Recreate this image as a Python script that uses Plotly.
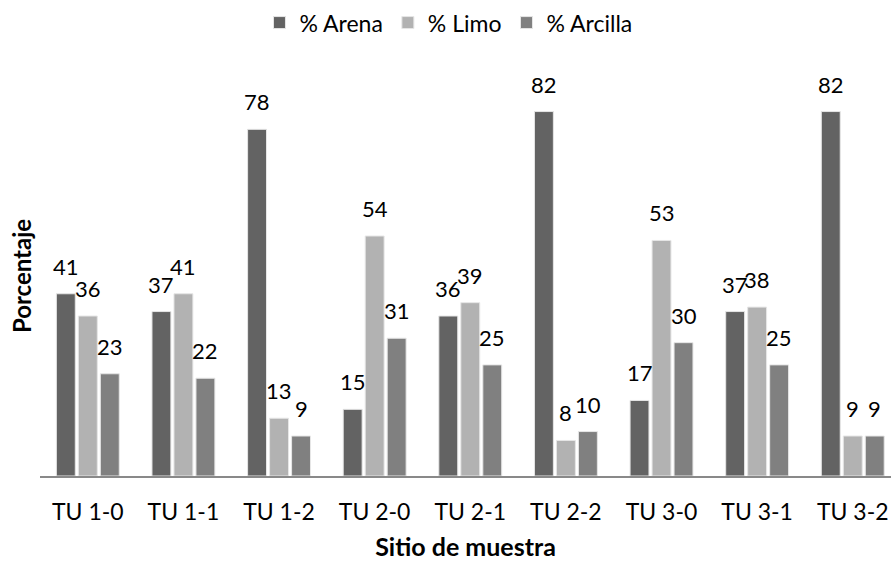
import plotly.graph_objects as go

sitios = ["TU 1-0", "TU 1-1", "TU 1-2", "TU 2-0", "TU 2-1", "TU 2-2", "TU 3-0", "TU 3-1", "TU 3-2"]
arena = [41, 37, 78, 15, 36, 82, 17, 37, 82]
limo = [36, 41, 13, 54, 39, 8, 53, 38, 9]
arcilla = [23, 22, 9, 31, 25, 10, 30, 25, 9]

series = [
    ("% Arena", arena, "#636363"),
    ("% Limo", limo, "#b2b2b2"),
    ("% Arcilla", arcilla, "#808080"),
]

font_family = "Lato, 'Open Sans', sans-serif"
BARGAP = 0.31
GROUPGAP = 0.14
slot = (1 - BARGAP) / len(series)  # category-units per bar slot in a group

fig = go.Figure()
for k, (name, vals, color) in enumerate(series):
    fig.add_trace(go.Bar(
        x=sitios, y=vals, name=name,
        marker=dict(color=color, line=dict(color="#e6e6e6", width=1)),
        cliponaxis=False,
    ))
    # value labels above each bar, centred on the bar's slot in its group
    shift = (k - (len(series) - 1) / 2) * slot
    for i, v in enumerate(vals):
        fig.add_annotation(
            x=i + shift, y=v, xref="x", yref="y",
            text=str(v), showarrow=False,
            xanchor="center", yanchor="bottom", yshift=12,
            font=dict(size=22, color="#000000", family=font_family),
        )

fig.update_layout(
    width=891, height=561,
    margin=dict(l=40, r=0, t=76, b=85),
    paper_bgcolor="white", plot_bgcolor="white",
    barmode="group", bargap=BARGAP, bargroupgap=GROUPGAP,
    font=dict(family=font_family, color="#000000"),
    showlegend=True,
    legend=dict(orientation="h", x=0.48, xanchor="center", y=0.998, yanchor="top",
                yref="container", font=dict(size=23),
                itemwidth=30, traceorder="normal"),
    xaxis=dict(
        range=[-0.5, 8.4], showline=True, linecolor="#898989", linewidth=1.5,
        ticks="", tickfont=dict(size=23), showgrid=False, ticklabelstandoff=15,
        title=dict(text="<b>Sitio de muestra</b>", font=dict(size=25), standoff=17),
    ),
    yaxis=dict(
        range=[0, 90], showticklabels=False, showgrid=False, zeroline=False,
        showline=False, ticks="",
        title=dict(text="<b>Porcentaje</b>", font=dict(size=24), standoff=0),
    ),
)

fig.write_html("out.html")
